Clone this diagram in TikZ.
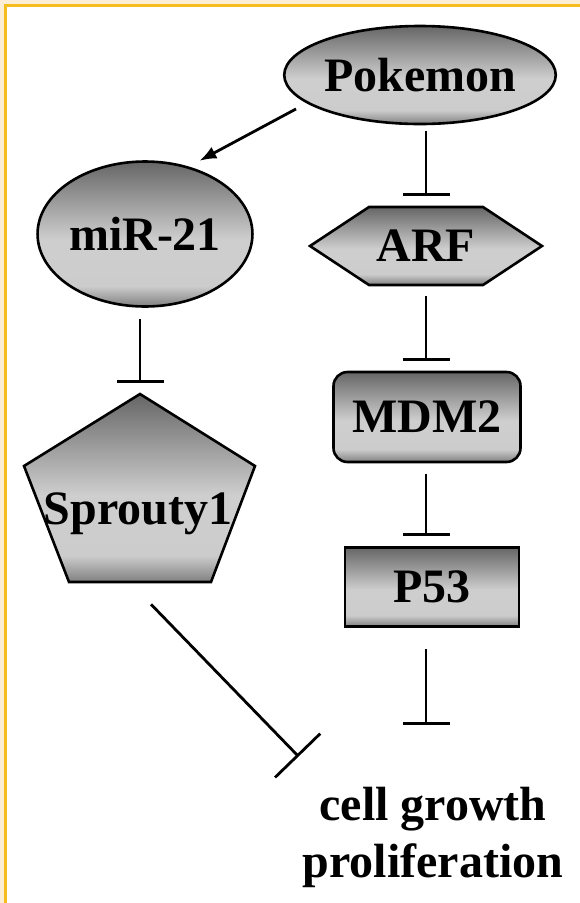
\documentclass[tikz,border=0pt]{standalone}
\usepackage{fontspec}
\setmainfont{Liberation Serif}
\usetikzlibrary{arrows.meta,shapes.geometric}

\definecolor{framecream}{RGB}{252,238,212}
\definecolor{framegold}{RGB}{245,190,30}
\pgfdeclareverticalshading{protshade}{100bp}{color(0bp)=(black!50); color(25bp)=(black!50); color(32bp)=(black!20); color(48bp)=(black!19); color(75bp)=(black!60); color(100bp)=(black!60)}

\begin{document}
\begin{tikzpicture}[
    x=1pt, y=-1pt,
    every node/.style={font=\fontsize{48}{57}\selectfont\bfseries, inner sep=0pt},
    prot/.style={
        draw,
        line width=2.6pt,
        shade,
        shading=protshade
    },
    act/.style={-{Latex[length=17pt,width=13pt]}, line width=2.8pt},
    inh/.style={-{Bar[width=47pt]}, line width=2.8pt}
]

\useasboundingbox (0,0) rectangle (580,903);
\fill[framecream] (0,0) rectangle (580,903);
\fill[framegold] (4,4) rectangle (580,903);
\fill[white] (6.5,6.5) rectangle (580,903);

\node[prot, ellipse, minimum width=266pt, minimum height=98pt] (pok) at (420,75) {Pokemon};
\node[prot, ellipse, minimum width=197pt, minimum height=145pt] (mir) at (145,234) {miR-21};

\path[prot] (310,246) -- (369,207) -- (483,207) -- (542,246) -- (483,285) -- (369,285) -- cycle;
\node[minimum width=114pt, minimum height=78pt] (arf) at (426,246) {ARF};

\path[prot] (140,394) -- (255,466) -- (211,582) -- (69,582) -- (24,466) -- cycle;
\coordinate (sprtip) at (140,394);
\node (spr) at (138,514) {Sprouty1};

\node[prot, rounded corners=14pt, minimum width=187pt, minimum height=90pt] (mdm) at (427,417) {MDM2};
\node[prot, minimum width=174pt, minimum height=79pt] (p53) at (432,587) {P53};

\node[align=center] (cell) at (433,837) {cell growth\\proliferation};

\draw[act, shorten <=12pt, shorten >=12pt] (pok.194) -- (mir.57);
\draw[inh, shorten <=6pt, shorten >=11pt] (pok.south -| arf.north) -- (arf.north);
\draw[inh, shorten <=11pt, shorten >=11pt] (mir.south -| sprtip) -- (sprtip);
\draw[inh, shorten <=11pt, shorten >=10pt] (arf.south) -- (arf.south |- mdm.north);
\draw[inh, shorten <=11pt, shorten >=10pt] (arf.south |- mdm.south) -- (arf.south |- p53.north);
\draw[inh, shorten <=21pt, shorten >=62pt] (arf.south |- p53.south) -- (arf.south |- cell.north);
\draw[inh, -{Bar[width=63pt]}] ([shift={(13,69)}]spr.south) -- ([shift={(-4,-30)}]cell.north west);

\end{tikzpicture}
\end{document}
